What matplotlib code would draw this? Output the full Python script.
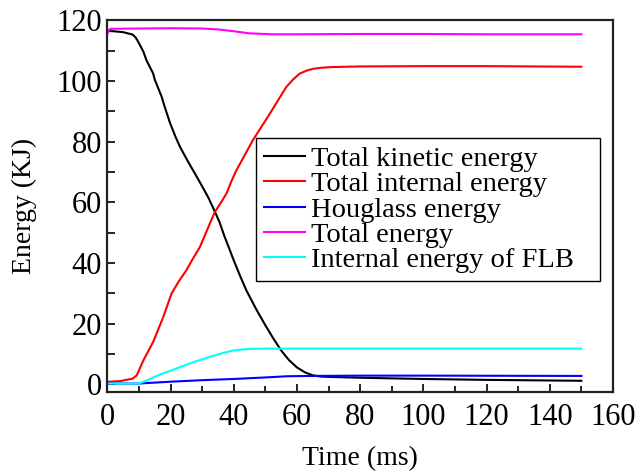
import matplotlib
matplotlib.use("Agg")
import matplotlib.pyplot as plt
from matplotlib.ticker import MultipleLocator

plt.rcParams['font.family'] = ['Liberation Serif', 'DejaVu Serif']
plt.rcParams['mathtext.fontset'] = 'stix'

# Data (time in ms, energy in KJ)
t_kin = [0, 2, 5, 8, 9, 10, 11.4, 12.4, 14.5, 15, 17.2, 18, 19.8, 21.5, 23, 25.5, 28, 30, 32, 34, 35.5, 37, 38.5, 40, 42, 44, 47, 50, 52.5, 55, 57.5, 60, 62.5, 65, 67.5, 70, 80, 100, 120, 150]
e_kin = [116.5, 116.4, 116.1, 115.3, 114.3, 112.5, 109.7, 106.8, 102.5, 100.5, 94.8, 92, 86.3, 81.8, 78.3, 73.5, 69, 65.3, 61.5, 57, 53.5, 49, 45, 40.9, 35.8, 31, 25, 19.5, 15.2, 11.2, 8.0, 5.6, 4.0, 3.0, 2.6, 2.5, 2.2, 1.8, 1.5, 1.2]

t_int = [0, 0.5, 4, 8, 9.3, 11.4, 14.5, 17.7, 20.3, 22.5, 25, 27, 29.3, 31.7, 34, 36, 37.7, 39.2, 40.8, 43.5, 46, 48.7, 51.4, 54, 56.6, 58.8, 60.8, 63, 65, 68, 71.4, 80, 100, 120, 150]
e_int = [0.3, 0.9, 1.1, 1.9, 3.0, 7.9, 14, 22.2, 29.9, 33.8, 37.6, 41.3, 45.3, 51.2, 56.8, 60.0, 62.9, 66.8, 70.5, 75.6, 80.4, 84.8, 89.2, 93.6, 98, 100.5, 102.4, 103.4, 104, 104.4, 104.6, 104.8, 104.9, 104.9, 104.7]

t_hg = [0, 10, 20, 30, 40, 50, 57, 65, 80, 100, 150]
e_hg = [0.3, 0.3, 0.9, 1.4, 1.8, 2.3, 2.7, 2.8, 2.9, 2.9, 2.8]

t_tot = [0, 0.5, 1, 10, 20, 30, 35, 40, 45, 52, 60, 80, 100, 120, 150]
e_tot = [115.5, 116.8, 117.2, 117.3, 117.4, 117.3, 117.0, 116.4, 115.7, 115.4, 115.4, 115.5, 115.5, 115.4, 115.4]

t_flb = [0, 10, 12.5, 15, 17.5, 20, 22.5, 25, 27.5, 30, 32.5, 35, 37.5, 40, 42.5, 45, 50, 80, 150]
e_flb = [0.3, 0.3, 1.3, 2.5, 3.6, 4.5, 5.5, 6.5, 7.4, 8.3, 9.1, 9.9, 10.6, 11.2, 11.5, 11.7, 11.8, 11.8, 11.8]

labels = ['Total kinetic energy', 'Total internal energy', 'Houglass energy',
          'Total energy', 'Internal energy of FLB']
colors = ['black', '#ff0000', '#0000ff', '#ff00ff', '#00ffff']

fig = plt.figure(figsize=(6.43, 4.71), dpi=100)
ax = fig.add_axes([0.1669, 0.1677, 0.9533 - 0.1669, 0.9575 - 0.1677])

series = [(t_kin, e_kin), (t_int, e_int), (t_hg, e_hg), (t_tot, e_tot), (t_flb, e_flb)]
for (tx, ey), lab, c in zip(series, labels, colors):
    ax.plot(tx, ey, color=c, lw=1.5, label=lab)

ax.set_xlim(0, 160)
ax.set_ylim(-2.5, 120.1)
ax.xaxis.set_major_locator(MultipleLocator(20))
ax.xaxis.set_minor_locator(MultipleLocator(10))
ax.yaxis.set_major_locator(MultipleLocator(20))
ax.yaxis.set_minor_locator(MultipleLocator(10))
ax.tick_params(which='major', direction='in', length=6, width=1.2, labelsize=22, pad=4)
ax.tick_params(axis='x', which='major', pad=8)
ax.tick_params(which='minor', direction='in', length=4, width=1.2)
ax.tick_params(axis='y', which='minor', length=6)
for s in ax.spines.values():
    s.set_linewidth(1.6)
    s.set_color('#222222')

ax.set_xlabel('Time (ms)', fontsize=20, labelpad=10)
ax.set_ylabel('Energy (KJ)', fontsize=20, labelpad=14)

leg = ax.legend(loc='upper left', bbox_to_anchor=(0.294, 0.383, 0.68, 0.30),
                mode='expand', fontsize=20.5,
                frameon=True, fancybox=False, edgecolor='black', framealpha=1,
                handlelength=1.45, handletextpad=0.2, labelspacing=-0.02,
                borderpad=0.28, borderaxespad=0.0)
leg.get_frame().set_linewidth(1.0)

fig.savefig('out.png', dpi=100)
